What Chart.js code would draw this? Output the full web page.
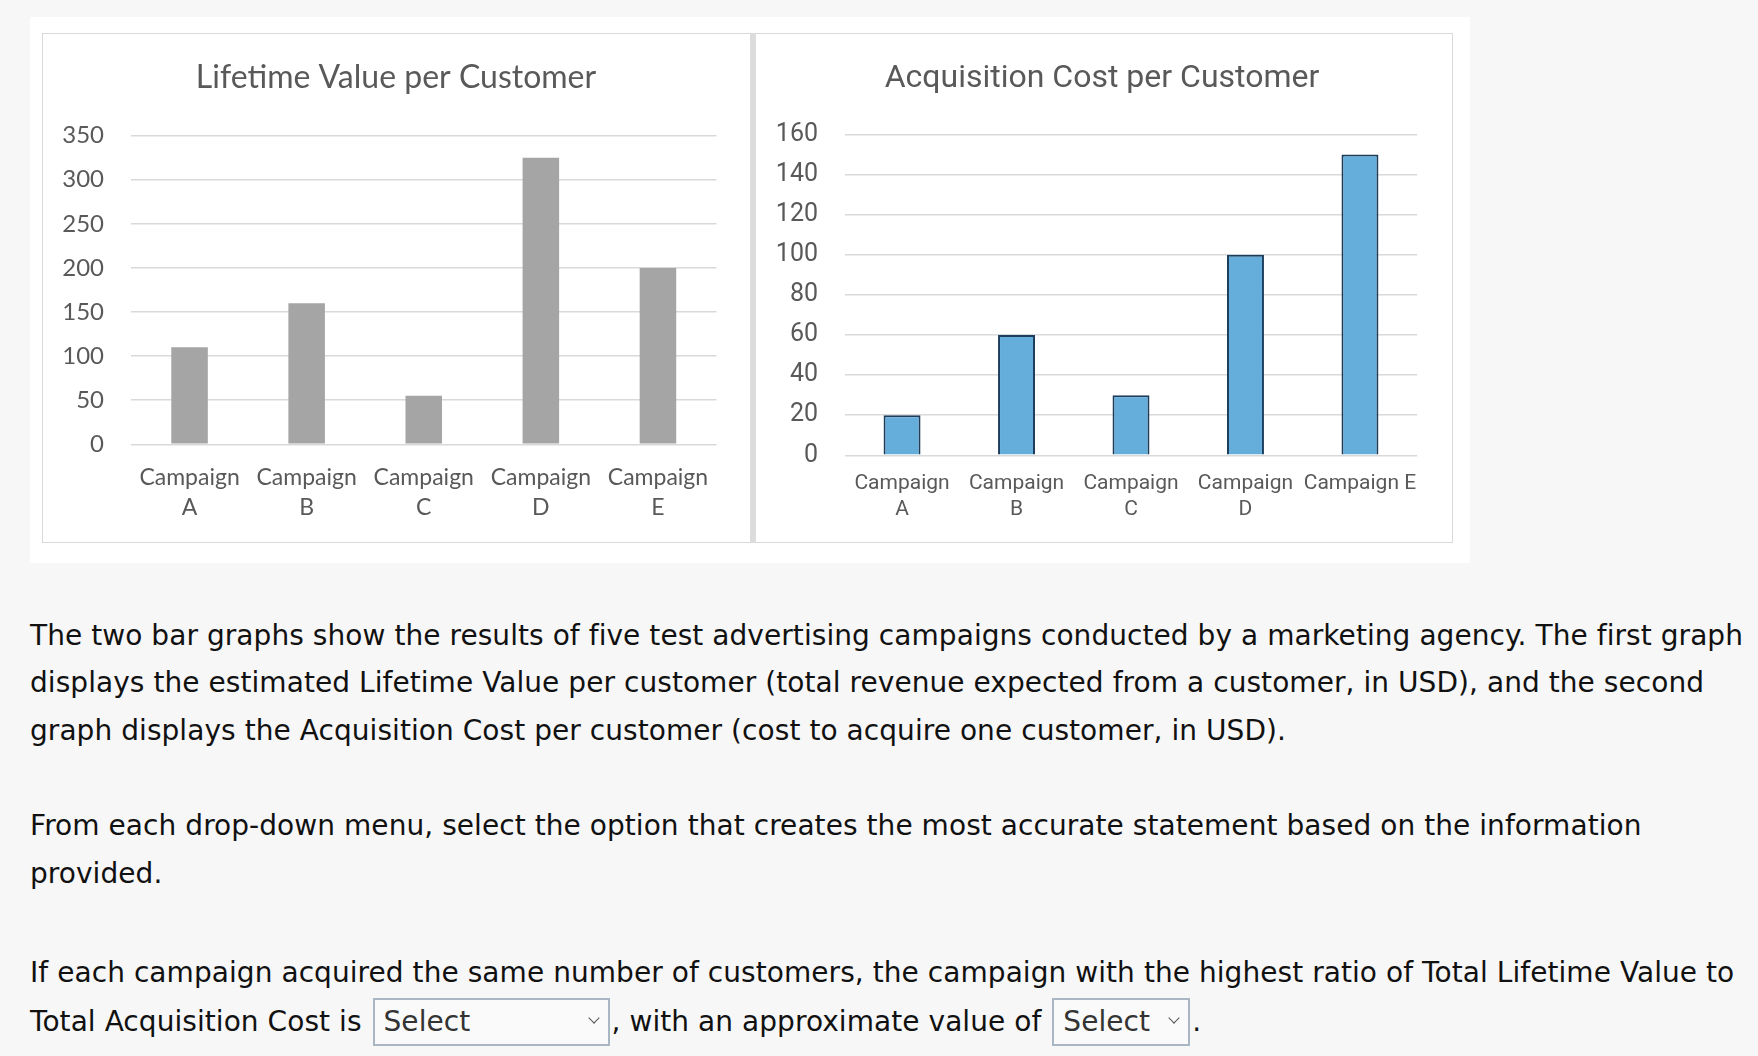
<!DOCTYPE html>
<html>
<head>
<meta charset="utf-8">
<script src="https://cdn.jsdelivr.net/npm/chart.js@4.4.1/dist/chart.umd.min.js"></script>
<style>
  html, body { margin:0; padding:0; }
  body { width:1758px; height:1056px; background:#f7f7f7; position:relative; overflow:hidden; }
  #panel { position:absolute; left:30px; top:17px; width:1440px; height:546px; background:#ffffff; }
  .box { position:absolute; top:33px; height:510px; box-sizing:border-box; border:1px solid #d9d9d9; background:#fff; }
  .box canvas { display:block; }
  #boxL { left:42px; width:709px; }
  #boxR { left:755px; width:698px; }
  #divider { position:absolute; left:750px; top:33px; width:6px; height:510px; background:#dcdcdc; }
  .para { position:absolute; left:30px; font-family:"DejaVu Sans", sans-serif;
          font-size:28px; color:#111; white-space:nowrap; }
  #p1 { top:611.5px; line-height:47.7px; }
  #p2 { top:802.2px; line-height:47.7px; }
  #p3 { top:947.5px; line-height:49px; }
  .sel { display:inline-block; position:relative; box-sizing:border-box; height:48px; line-height:44px;
         border:2px solid #a9b6c3; background:#fafafa; color:#333; padding-left:9px; vertical-align:baseline; }
  .sel .chev { position:absolute; right:10px; top:14px; width:7px; height:7px;
               border-right:1.5px solid #555; border-bottom:1.5px solid #555; transform:rotate(45deg); }
</style>
</head>
<body>
<div id="panel"></div>
<div class="box" id="boxL"><canvas id="c1" width="707" height="508"></canvas></div>
<div class="box" id="boxR"><canvas id="c2" width="696" height="508"></canvas></div>
<div id="divider"></div>

<div class="para" id="p1"><span id="l1">The two bar graphs show the results of five test advertising campaigns conducted by a marketing agency. The first graph</span><br>displays the estimated Lifetime Value per customer (total revenue expected from a customer, in USD), and the second<br>graph displays the Acquisition Cost per customer (cost to acquire one customer, in USD).</div>
<div class="para" id="p2">From each drop-down menu, select the option that creates the most accurate statement based on the information<br>provided.</div>
<div class="para" id="p3">If each campaign acquired the same number of customers, the campaign with the highest ratio of Total Lifetime Value to<br>Total Acquisition Cost is <span class="sel" style="width:237px;margin-left:2px;margin-right:2px">Select<span class="chev"></span></span>, with an approximate value of <span class="sel" style="width:138px;margin-left:2px;margin-right:2px">Select<span class="chev"></span></span>.</div>

<script>
// ---- data ----
const categoriesLTV = [["Campaign","A"],["Campaign","B"],["Campaign","C"],["Campaign","D"],["Campaign","E"]];
const categoriesCAC = [["Campaign","A"],["Campaign","B"],["Campaign","C"],["Campaign","D"],"Campaign E"];
const lifetimeValue = [110, 160, 55, 325, 200];
const acquisitionCost = [20, 60, 30, 100, 150];
const ltvAxisMax = 350, ltvAxisStep = 50;
const cacAxisMax = 160, cacAxisStep = 20;
const titleLTV = "Lifetime Value per Customer";
const titleCAC = "Acquisition Cost per Customer";

const textGray = "#595959";
const gridGray = "#d9d9d9";

function fixWidth(w) { return function(scale){ scale.width = w; }; }
function spacer(w) {
  return { position: "right", display: true, afterFit: fixWidth(w),
           grid: { display: false, drawTicks: false }, border: { display: false }, ticks: { display: false } };
}

new Chart(document.getElementById("c1"), {
  type: "bar",
  data: {
    labels: categoriesLTV,
    datasets: [{ data: lifetimeValue, backgroundColor: "#a5a5a5", borderWidth: 0,
                 categoryPercentage: 1, barPercentage: 0.312, yAxisID: "y" }]
  },
  options: {
    responsive: false, animation: false, devicePixelRatio: 1,
    layout: { padding: { left: 0, right: 1, top: 0, bottom: 0.4 } },
    plugins: {
      legend: { display: false }, tooltip: { enabled: false },
      title: { display: true, text: titleLTV, color: textGray,
               font: { family: "Lato", size: 32, weight: "normal", lineHeight: 1.2 },
               padding: { top: 24.8, bottom: 38.4 } }
    },
    scales: {
      x: { grid: { display: false, drawTicks: false }, border: { display: false },
           ticks: { color: textGray, font: { family: "Lato", size: 23, lineHeight: 30/23 },
                    padding: 18.6, maxRotation: 0, minRotation: 0, autoSkip: false } },
      y: { min: 0, max: ltvAxisMax, afterFit: fixWidth(88),
           grid: { color: gridGray, lineWidth: 1.6, drawTicks: false }, border: { display: false },
           ticks: { stepSize: ltvAxisStep, color: textGray, padding: 27,
                    font: { family: "Lato", size: 24 } } },
      yPad: spacer(32.5)
    }
  }
});

new Chart(document.getElementById("c2"), {
  type: "bar",
  data: {
    labels: categoriesCAC,
    datasets: [{ data: acquisitionCost, backgroundColor: "#65aedb", borderColor: "#1d3d5c", borderWidth: 2,
                 categoryPercentage: 1, barPercentage: 0.323, yAxisID: "y" }]
  },
  options: {
    responsive: false, animation: false, devicePixelRatio: 1,
    layout: { padding: { left: 0, right: 4, top: 0, bottom: 3.7 } },
    plugins: {
      legend: { display: false }, tooltip: { enabled: false },
      title: { display: true, text: titleCAC, color: textGray,
               font: { family: "Roboto", size: 32, weight: "normal", lineHeight: 1.2 },
               padding: { top: 25.8, bottom: 36.3 } }
    },
    scales: {
      x: { grid: { display: false, drawTicks: false }, border: { display: false },
           ticks: { color: textGray, font: { family: "Roboto", size: 21, lineHeight: 26.4/21 },
                    padding: 15.1, maxRotation: 0, minRotation: 0, autoSkip: false } },
      y: { min: 0, max: cacAxisMax, afterFit: fixWidth(88.8),
           grid: { color: gridGray, lineWidth: 1.6, drawTicks: false }, border: { display: false },
           ticks: { stepSize: cacAxisStep, color: textGray, padding: 26.8,
                    font: { family: "Roboto", size: 25 } } },
      yPad: spacer(30.8)
    }
  }
});

// fit paragraph tracking so the first line spans the same width as in the reference
(function(){
  const target = 1713;
  const l1 = document.getElementById("l1");
  const w = l1.getBoundingClientRect().width;
  const n = l1.textContent.length;
  const ls = (target - w) / n;
  document.querySelectorAll(".para").forEach(p => p.style.letterSpacing = ls + "px");
})();
</script>
</body>
</html>
